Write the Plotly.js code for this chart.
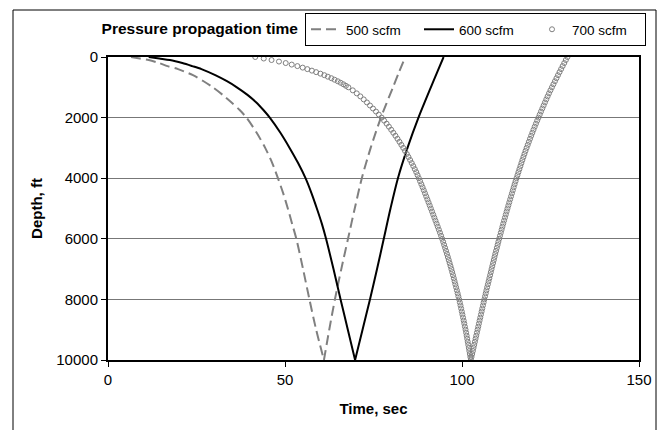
<!DOCTYPE html>
<html>
<head>
<meta charset="utf-8">
<script src="https://cdn.plot.ly/plotly-3.0.1.min.js"></script>
<style>
  html, body { margin: 0; padding: 0; background: #ffffff; }
  #chart { width: 665px; height: 430px; }
</style>
</head>
<body>
<div id="chart"></div>
<script>
// Pressure propagation time vs. depth for three gas injection rates.

// 500 and 600 scfm: descending (downward) branch
const depthDown = [0, 50, 100, 200, 300, 400, 600, 800, 1000, 1250, 1500, 1750, 2000,
  2500, 3000, 3500, 4000, 4500, 5000, 5500, 6000, 7000, 8000, 9000, 10000];
const time500Down = [6.5, 9.0, 11.5, 14.5, 16.8, 19.8, 24.0, 27.0, 29.6, 32.4, 34.9, 37.2, 39.1,
  42.0, 44.4, 46.4, 48.0, 49.5, 50.8, 52.0, 53.2, 55.1, 56.9, 58.8, 61.0];
const time600Down = [11.5, 14.5, 17.5, 21.0, 23.8, 26.4, 30.3, 33.6, 36.4, 39.4, 41.9, 43.9, 45.7,
  48.7, 51.3, 53.7, 55.8, 57.5, 59.0, 60.4, 61.6, 63.7, 65.7, 67.75, 69.8];

// 500 and 600 scfm: ascending (return) branch, starting at the bottom
const depthUp = [10000, 9000, 8000, 7000, 6000, 5000, 4000, 3000, 2000, 1000, 500, 0];
const time500Up = [61.0, 62.5, 64.1, 65.9, 67.8, 69.7, 71.7, 74.2, 77.1, 80.5, 82.2, 84.0];
const time600Up = [69.8, 71.9, 74.0, 76.0, 77.9, 79.8, 81.9, 84.6, 87.7, 91.2, 93.0, 94.8];

// 700 scfm: individual readings
const depth700Down = [0, 50, 100, 150, 200, 250, 300, 350, 400, 450, 500, 550, 600, 650, 700, 750, 800, 850, 900, 950,
  1000, 1100, 1200, 1300, 1400, 1500, 1600, 1700, 1800, 1900,
  2000, 2100, 2200, 2300, 2400, 2500, 2600, 2700, 2800, 2900,
  3000, 3100, 3200, 3300, 3400, 3500, 3600, 3700, 3800, 3900,
  4000, 4100, 4200, 4300, 4400, 4500, 4600, 4700, 4800, 4900,
  5000, 5100, 5200, 5300, 5400, 5500, 5600, 5700, 5800, 5900,
  6000, 6100, 6200, 6300, 6400, 6500, 6600, 6700, 6800, 6900,
  7000, 7100, 7200, 7300, 7400, 7500, 7600, 7700, 7800, 7900,
  8000, 8100, 8200, 8300, 8400, 8500, 8600, 8700, 8800, 8900,
  9000, 9100, 9200, 9300, 9400, 9500, 9600, 9700, 9800, 9900, 10000];
const time700Down = [41.6, 44.0, 46.2, 48.3, 50.2, 51.9, 53.5, 55.0, 56.3, 57.6, 58.8, 60.0, 61.1, 62.1, 63.1, 64.0, 64.9, 65.7, 66.5, 67.2,
  67.9, 69.15, 70.27, 71.29, 72.24, 73.14, 74.0, 74.85, 75.7, 76.5,
  77.3, 78.0, 78.7, 79.35, 80.0, 80.6, 81.2, 81.77, 82.33, 82.87,
  83.4, 83.91, 84.4, 84.88, 85.35, 85.8, 86.24, 86.67, 87.08, 87.45,
  87.8, 88.16, 88.52, 88.87, 89.21, 89.55, 89.89, 90.22, 90.55, 90.88,
  91.2, 91.53, 91.86, 92.18, 92.5, 92.82, 93.14, 93.46, 93.78, 94.09,
  94.4, 94.68, 94.95, 95.22, 95.48, 95.74, 96.0, 96.25, 96.5, 96.75,
  97.0, 97.23, 97.46, 97.68, 97.9, 98.12, 98.34, 98.56, 98.77, 98.98,
  99.2, 99.39, 99.58, 99.76, 99.94, 100.12, 100.3, 100.48, 100.65, 100.82,
  101.0, 101.16, 101.32, 101.47, 101.62, 101.77, 101.92, 102.07, 102.21, 102.36, 102.5];
const depth700Up = [9900, 9800, 9700, 9600, 9500, 9400, 9300, 9200, 9100,
  9000, 8900, 8800, 8700, 8600, 8500, 8400, 8300, 8200, 8100,
  8000, 7900, 7800, 7700, 7600, 7500, 7400, 7300, 7200, 7100,
  7000, 6900, 6800, 6700, 6600, 6500, 6400, 6300, 6200, 6100,
  6000, 5900, 5800, 5700, 5600, 5500, 5400, 5300, 5200, 5100,
  5000, 4900, 4800, 4700, 4600, 4500, 4400, 4300, 4200, 4100,
  4000, 3900, 3800, 3700, 3600, 3500, 3400, 3300, 3200, 3100,
  3000, 2900, 2800, 2700, 2600, 2500, 2400, 2300, 2200, 2100,
  2000, 1900, 1800, 1700, 1600, 1500, 1400, 1300, 1200, 1100,
  1000, 900, 800, 700, 600, 500, 400, 300, 200, 100, 0];
const time700Up = [102.69, 102.88, 103.07, 103.26, 103.45, 103.64, 103.83, 104.02, 104.21,
  104.4, 104.59, 104.78, 104.97, 105.16, 105.35, 105.54, 105.73, 105.92, 106.11,
  106.3, 106.5, 106.7, 106.9, 107.1, 107.31, 107.52, 107.73, 107.94, 108.14,
  108.35, 108.56, 108.77, 108.98, 109.19, 109.4, 109.62, 109.84, 110.06, 110.28,
  110.5, 110.73, 110.96, 111.19, 111.42, 111.65, 111.89, 112.13, 112.37, 112.61,
  112.85, 113.1, 113.35, 113.6, 113.85, 114.1, 114.35, 114.6, 114.86, 115.13,
  115.4, 115.67, 115.94, 116.22, 116.5, 116.78, 117.06, 117.35, 117.64, 117.94,
  118.25, 118.57, 118.89, 119.21, 119.54, 119.87, 120.2, 120.54, 120.89, 121.24,
  121.6, 121.96, 122.32, 122.69, 123.06, 123.43, 123.8, 124.18, 124.57, 124.98,
  125.4, 125.82, 126.25, 126.68, 127.11, 127.55, 127.99, 128.43, 128.88, 129.33, 129.8];

const seriesNames = ['500 scfm', '600 scfm', '700 scfm'];
const xTicks = [0, 50, 100, 150];
const yTicks = [0, 2000, 4000, 6000, 8000, 10000];

const FONT = 'Arial, "Liberation Sans", sans-serif';
const GRAY = '#808080';

const line500 = { color: GRAY, width: 2, dash: '10px,5px', shape: 'spline', smoothing: 0.8 };
const line600 = { color: '#000000', width: 2, shape: 'spline', smoothing: 0.8 };

// each line series is drawn as two smooth branches meeting at the bottom
const traces = [
  {
    name: seriesNames[0], legendgroup: 'g500',
    x: time500Down, y: depthDown,
    mode: 'lines', line: line500
  },
  {
    name: seriesNames[0], legendgroup: 'g500', showlegend: false,
    x: time500Up, y: depthUp,
    mode: 'lines', line: line500
  },
  {
    name: seriesNames[1], legendgroup: 'g600',
    x: time600Down, y: depthDown,
    mode: 'lines', line: line600
  },
  {
    name: seriesNames[1], legendgroup: 'g600', showlegend: false,
    x: time600Up, y: depthUp,
    mode: 'lines', line: line600
  },
  {
    name: seriesNames[2],
    x: time700Down.concat(time700Up),
    y: depth700Down.concat(depth700Up),
    mode: 'markers',
    marker: { symbol: 'circle-open', size: 5, color: GRAY, line: { color: GRAY, width: 1 } }
  }
];

// plot area spans 108..639 px horizontally, 57..360 px vertically
const PL = 108, PR = 639, PT = 57, PB = 360;
const pw = PR - PL, ph = PB - PT;
const px = v => (v - PL) / pw;
const py = v => (PB - v) / ph;

const layout = {
  width: 665,
  height: 430,
  margin: { l: PL, r: 665 - PR, t: PT, b: 430 - PB },
  paper_bgcolor: '#ffffff',
  plot_bgcolor: '#ffffff',
  font: { family: FONT, size: 15, color: '#000000' },
  showlegend: true,
  title: {
    text: '<b>Pressure propagation time</b>',
    font: { family: FONT, size: 15.5, color: '#000000' },
    xref: 'paper', x: px(298), xanchor: 'right',
    yref: 'paper', y: py(28), yanchor: 'middle'
  },
  legend: {
    orientation: 'h',
    xref: 'paper', yref: 'paper',
    x: px(305), y: py(13), xanchor: 'left', yanchor: 'top',
    bgcolor: '#ffffff', bordercolor: '#000000', borderwidth: 1,
    font: { family: FONT, size: 13.5, color: '#000000' },
    traceorder: 'normal',
    itemwidth: 30,
    entrywidth: 68, entrywidthmode: 'pixels'
  },
  xaxis: {
    range: [0, 150],
    tickvals: xTicks,
    ticktext: xTicks.map(String),
    ticks: 'outside', ticklen: 5, tickwidth: 1, tickcolor: '#000000',
    showline: true, linecolor: '#000000', linewidth: 2, mirror: true,
    showgrid: false, zeroline: false,
    tickfont: { family: FONT, size: 15 },
    title: { text: '<b>Time, sec</b>', font: { family: FONT, size: 15 }, standoff: 16 }
  },
  yaxis: {
    range: [10000, 0],
    tickvals: yTicks,
    ticktext: yTicks.map(String),
    ticks: 'outside', ticklen: 5, tickwidth: 1, tickcolor: '#000000',
    showline: true, linecolor: '#000000', linewidth: 2, mirror: true,
    showgrid: true, gridcolor: '#777777', gridwidth: 1,
    zeroline: false,
    tickfont: { family: FONT, size: 15 },
    title: { text: '<b>Depth, ft</b>', font: { family: FONT, size: 15 }, standoff: 10 }
  },
  shapes: [
    {
      type: 'rect', xref: 'paper', yref: 'paper', layer: 'below',
      x0: px(13), x1: px(656), y0: py(445), y1: py(10),
      line: { color: '#000000', width: 1 }, fillcolor: 'rgba(0,0,0,0)'
    }
  ]
};

Plotly.newPlot('chart', traces, layout, { displayModeBar: false, staticPlot: true });
</script>
</body>
</html>
